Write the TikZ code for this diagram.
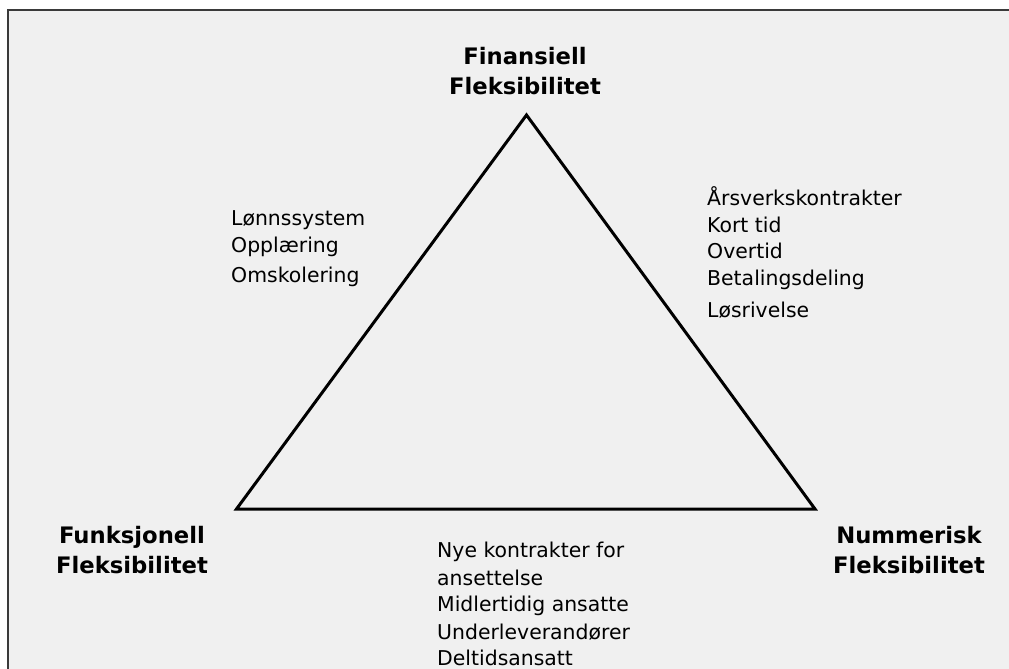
\documentclass[tikz,border=0pt]{standalone}
\usepackage{fontspec}
\setmainfont{DejaVu Sans}
\definecolor{panel}{HTML}{F0F0F0}
\definecolor{frameline}{HTML}{3A3A3A}
\begin{document}
\begin{tikzpicture}[x=1pt,y=-1pt,
  corner/.style={font=\bfseries\fontsize{22.7}{28}\selectfont,anchor=base,inner sep=0pt},
  item/.style={font=\fontsize{20.4}{26}\selectfont,anchor=base west,inner sep=0pt},
  edge/.style={line width=3pt,line join=miter}]
  % page and panel
  \useasboundingbox (0,0) rectangle (1009,669);
  \fill[white] (0,0) rectangle (1009,669);
  \fill[panel] (8,10) rectangle (1009,669);
  \draw[frameline,line width=2pt] (8,669) -- (8,10) -- (1009,10);

  % triangle
  \coordinate (top) at (526.5,115);
  \coordinate (bl) at (236.5,509);
  \coordinate (br) at (815,509);
  \draw[edge] (top) -- (bl) -- (br) -- cycle;

  % corner titles
  \node[corner] (fin1) at (525,64) {Finansiell};
  \node[corner] (fin2) at (525,95) {Fleksibilitet};
  \node[corner] (fun1) at (132,543) {Funksjonell};
  \node[corner] (fun2) at (132,573) {Fleksibilitet};
  \node[corner] (num1) at (909,543) {Nummerisk};
  \node[corner] (num2) at (909,573) {Fleksibilitet};

  % left list
  \node[item] (l1) at (231,225) {Lønnssystem};
  \node[item] (l2) at (231,252) {Opplæring};
  \node[item] (l3) at (231,282) {Omskolering};

  % right list
  \node[item] (r1) at (707,205) {Årsverkskontrakter};
  \node[item] (r2) at (707,232) {Kort tid};
  \node[item] (r3) at (707,258) {Overtid};
  \node[item] (r4) at (707,285) {Betalingsdeling};
  \node[item] (r5) at (707,317) {Løsrivelse};

  % bottom list
  \node[item] (b1) at (437,557) {Nye kontrakter for};
  \node[item] (b2) at (437,585) {ansettelse};
  \node[item] (b3) at (437,611) {Midlertidig ansatte};
  \node[item] (b4) at (437,639) {Underleverandører};
  \node[item] (b5) at (437,665) {Deltidsansatt};
\end{tikzpicture}
\end{document}
